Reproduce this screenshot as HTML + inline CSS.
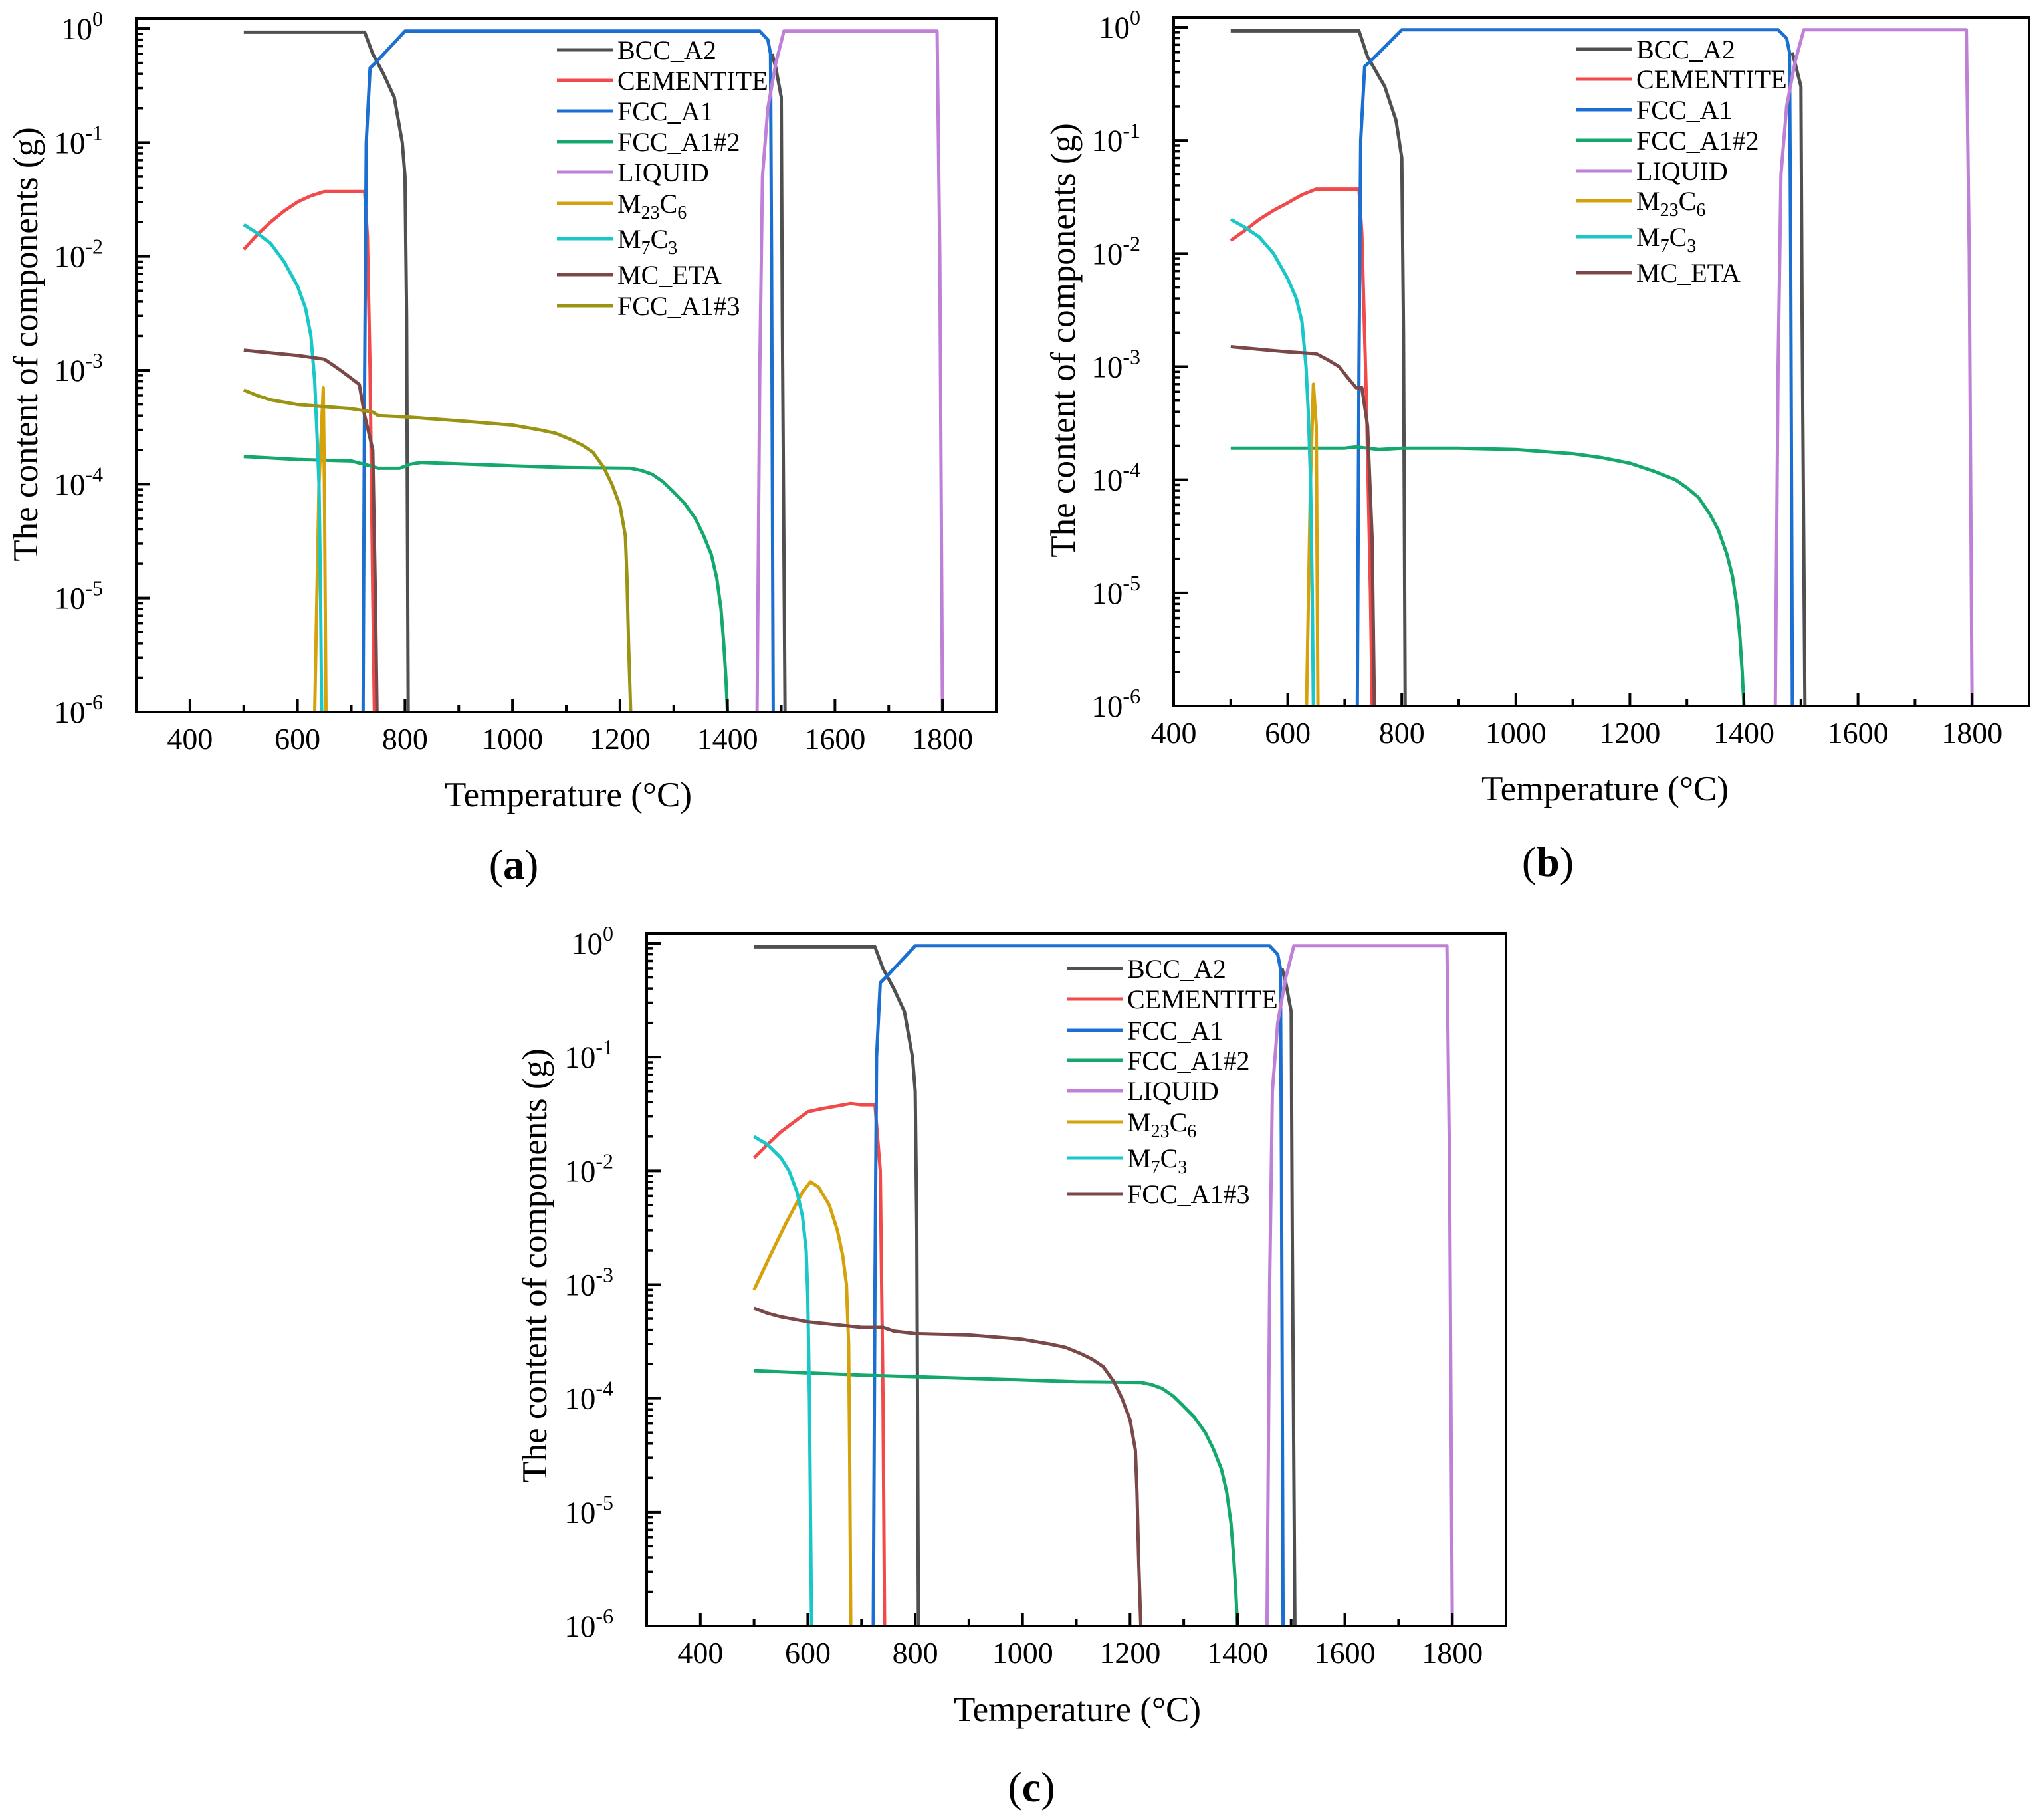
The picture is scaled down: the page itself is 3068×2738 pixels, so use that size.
<!DOCTYPE html>
<html><head><meta charset="utf-8"><style>
html,body{margin:0;padding:0;background:#fff}
svg{display:block}
text{font-family:"Liberation Serif",serif;fill:#000}
</style></head><body>
<svg id="fig" width="3068" height="2738" viewBox="0 0 3068 2738" xmlns="http://www.w3.org/2000/svg"></svg>
<script>
// ===== Panel (a) data =====
const aBccT=[500,725,740,760,780,795,800,803,806,null,1483,1490,1500,1502,1507];
const aBccV=[0.93,0.93,0.6,0.4,0.25,0.1,0.05,3e-3,1e-6,null,0.6,0.45,0.25,3e-3,1e-6];
const aCemT=[500,525,550,575,600,625,650,725,730,735,740,743];
const aCemV=[0.0115,0.0155,0.02,0.025,0.03,0.034,0.037,0.037,0.015,1e-3,1e-5,1e-6];
const aFccT=[722,725,728,735,745,800,1460,1475,1480,1482,1485];
const aFccV=[1e-6,1e-3,0.1,0.45,0.5,0.95,0.95,0.8,0.6,1e-2,1e-6];
const aFcc2T=[500,600,700,735,750,790,810,830,1000,1100,1220,1240,1260,1280,1300,1320,1340,1355,1370,1380,1388,1393,1397,1400];
const aFcc2V=[1.75e-4,1.65e-4,1.6e-4,1.45e-4,1.38e-4,1.38e-4,1.5e-4,1.55e-4,1.45e-4,1.4e-4,1.38e-4,1.32e-4,1.22e-4,1.05e-4,8.5e-5,6.8e-5,5e-5,3.6e-5,2.4e-5,1.5e-5,8e-6,4e-6,2e-6,1e-6];
const aLiqT=[1455,1460,1465,1475,1490,1505,1790,1795,1800];
const aLiqV=[1e-6,1e-3,0.05,0.2,0.5,0.95,0.95,1e-2,1e-6];
const aM23T=[632,640,648,650,653];
const aM23V=[1e-6,1e-4,7e-4,1e-4,1e-6];
const aM7T=[500,525,550,575,600,615,625,632,636,640,643,645];
const aM7V=[0.019,0.016,0.013,0.009,0.0055,0.0035,0.002,8e-4,3e-4,1e-4,1e-5,1e-6];
const aMcT=[500,600,650,665,680,700,715,725,740,745,748];
const aMcV=[1.5e-3,1.35e-3,1.25e-3,1.12e-3,1e-3,8.5e-4,7.5e-4,4e-4,2e-4,1e-5,1e-6];
const aFcc3T=[500,525,550,600,700,740,750,800,900,1000,1050,1080,1110,1130,1150,1170,1185,1200,1210,1213,1216,1220];
const aFcc3V=[6.7e-4,6e-4,5.5e-4,5e-4,4.6e-4,4.3e-4,4e-4,3.9e-4,3.6e-4,3.3e-4,3e-4,2.8e-4,2.45e-4,2.2e-4,1.9e-4,1.4e-4,1e-4,6.5e-5,3.5e-5,1.5e-5,4e-6,1e-6];
// ===== Panel (b) data =====
const bBccT=[500,725,740,770,790,800,803,806,null,1485,1500,1502,1507];
const bBccV=[0.93,0.93,0.55,0.3,0.15,0.07,2e-3,1e-6,null,0.6,0.3,3e-3,1e-6];
const bCemT=[500,525,550,575,600,625,650,725,730,738,745,748];
const bCemV=[0.013,0.016,0.02,0.024,0.028,0.033,0.037,0.037,0.015,5e-4,1e-5,1e-6];
const bFccT=[722,725,728,735,745,800,1460,1475,1480,1482,1485];
const bFccV=[1e-6,1e-3,0.1,0.45,0.5,0.95,0.95,0.8,0.6,1e-2,1e-6];
const bFcc2T=[500,700,720,760,800,900,1000,1100,1150,1200,1240,1280,1300,1320,1340,1355,1370,1380,1388,1393,1397,1400];
const bFcc2V=[1.9e-4,1.9e-4,1.95e-4,1.85e-4,1.9e-4,1.9e-4,1.85e-4,1.7e-4,1.57e-4,1.4e-4,1.2e-4,1e-4,8.5e-5,7e-5,5e-5,3.6e-5,2.2e-5,1.4e-5,7.5e-6,4e-6,2e-6,1e-6];
const bLiqT=[1455,1460,1465,1475,1490,1505,1790,1795,1800];
const bLiqV=[1e-6,1e-3,0.05,0.2,0.5,0.95,0.95,1e-2,1e-6];
const bM23T=[633,640,645,650,653];
const bM23V=[1e-6,1e-4,7e-4,3e-4,1e-6];
const bM7T=[500,525,550,575,600,615,625,632,636,640,643,645];
const bM7V=[0.02,0.017,0.014,0.01,0.006,0.004,0.0025,1e-3,4e-4,1e-4,1e-5,1e-6];
const bMcT=[500,600,650,670,690,705,720,730,740,748,752];
const bMcV=[1.5e-3,1.35e-3,1.3e-3,1.15e-3,1e-3,8e-4,6.5e-4,6.5e-4,3e-4,3e-5,1e-6];
// ===== Panel (c) data =====
const cBccT=[500,725,740,760,780,795,800,803,806,null,1483,1490,1500,1502,1507];
const cBccV=[0.93,0.93,0.6,0.4,0.25,0.1,0.05,3e-3,1e-6,null,0.6,0.45,0.25,3e-3,1e-6];
const cCemT=[500,525,550,575,600,625,680,700,725,735,740,743];
const cCemV=[0.013,0.017,0.022,0.027,0.033,0.035,0.039,0.038,0.038,0.01,1e-4,1e-6];
const cFccT=[722,725,728,735,745,800,1460,1475,1480,1482,1485];
const cFccV=[1e-6,1e-3,0.1,0.45,0.5,0.95,0.95,0.8,0.6,1e-2,1e-6];
const cFcc2T=[500,700,800,1000,1100,1220,1240,1260,1280,1300,1320,1340,1355,1370,1380,1388,1393,1397,1400];
const cFcc2V=[1.75e-4,1.6e-4,1.55e-4,1.45e-4,1.4e-4,1.38e-4,1.32e-4,1.22e-4,1.05e-4,8.5e-5,6.8e-5,5e-5,3.6e-5,2.4e-5,1.5e-5,8e-6,4e-6,2e-6,1e-6];
const cLiqT=[1455,1460,1465,1475,1490,1505,1790,1795,1800];
const cLiqV=[1e-6,1e-3,0.05,0.2,0.5,0.95,0.95,1e-2,1e-6];
const cM23T=[500,530,560,590,605,620,640,655,665,672,676,678,680];
const cM23V=[9e-4,1.8e-3,3.5e-3,6.5e-3,8e-3,7.2e-3,5e-3,3e-3,1.8e-3,1e-3,3e-4,3e-5,1e-6];
const cM7T=[500,525,550,565,580,590,597,600,603,605,607];
const cM7V=[0.02,0.017,0.013,0.01,0.0065,0.004,0.002,8e-4,1e-4,1e-5,1e-6];
const cFcc3T=[500,525,550,600,700,740,760,800,900,1000,1050,1080,1110,1130,1150,1170,1185,1200,1210,1213,1216,1220];
const cFcc3V=[6.2e-4,5.6e-4,5.2e-4,4.7e-4,4.2e-4,4.2e-4,3.9e-4,3.7e-4,3.6e-4,3.3e-4,3e-4,2.8e-4,2.45e-4,2.2e-4,1.9e-4,1.4e-4,1e-4,6.5e-5,3.5e-5,1.5e-5,4e-6,1e-6];
const xTickLabels=[400,600,800,1000,1200,1400,1600,1800];
const yExponents=[0,-1,-2,-3,-4,-5,-6];

const C={bcc:'#505050',cem:'#f24a4a',fcc:'#1b6fd0',fcc2:'#15a86c',liq:'#bf80d8',m23:'#d6a20c',m7:'#19c6c8',mc:'#7a4848',fcc3a:'#9a9412',fcc3c:'#7a4848'};
const NS='http://www.w3.org/2000/svg';
const svg=document.getElementById('fig');
function mk(tag,attrs,parent){const e=document.createElementNS(NS,tag);for(const k in attrs)e.setAttribute(k,attrs[k]);(parent||svg).appendChild(e);return e;}

function panel(cfg){
  const g=mk('g',{});
  
  
  const {L,R,T,B,xmin,xmax,y0}=cfg;
  const dec=(B-y0)/6;
  const xs=t=>L+(t-xmin)/(xmax-xmin)*(R-L);
  const ys=v=>y0-Math.log10(v)*dec;
  const cp=mk('clipPath',{id:'cp'+cfg.id},g);
  mk('rect',{x:L,y:T,width:R-L,height:B-T},cp);
  const sg=mk('g',{'clip-path':'url(#cp'+cfg.id+')'},g);
  cfg.series.forEach(s=>{
    let d='',pen=false;
    for(let i=0;i<s.t.length;i++){
      if(s.t[i]===null){pen=false;continue;}
      d+=(pen?'L':'M')+xs(s.t[i]).toFixed(1)+' '+ys(s.v[i]).toFixed(1);pen=true;
    }
    const p=mk('path',{d:d,fill:'none',stroke:s.c,'stroke-width':5,'stroke-linejoin':'round'},sg);
    
    
  });
  const fr=mk('rect',{x:L,y:T,width:R-L,height:B-T,fill:'none',stroke:'#000','stroke-width':4},g);
  
  
  for(let t=Math.ceil(xmin/100)*100;t<=xmax;t+=100){
    if(t===xmin||t===xmax)continue;
    const major=t%200===0;
    mk('line',{x1:xs(t),x2:xs(t),y1:B,y2:B-(major?20:10),stroke:'#000','stroke-width':4},g);
  }
  xTickLabels.forEach(t=>{
    const tx=mk('text',{x:xs(t),y:B+56,'text-anchor':'middle','font-size':46},g);
    tx.textContent=t;
    
    
  });
  yExponents.forEach(e=>{
    const y=ys(Math.pow(10,e));
    mk('line',{x1:L,x2:L+21,y1:y,y2:y,stroke:'#000','stroke-width':4},g);
    if(e>-6)for(let m=2;m<=9;m++){const yy=ys(m*Math.pow(10,e-1));mk('line',{x1:L,x2:L+10,y1:yy,y2:yy,stroke:'#000','stroke-width':3.5},g);}
    const tx=mk('text',{x:L-50,y:y+16,'text-anchor':'end','font-size':47},g);
    
    
    tx.appendChild(document.createTextNode('10'));
    const sp=mk('tspan',{'font-size':32,dy:-20},tx);sp.textContent=e===0?'0':'-'+(-e);
  });
  const xt=mk('text',{x:cfg.xtx,y:cfg.xty,'text-anchor':'middle','font-size':53},g);
  xt.textContent='Temperature (°C)';
  
  
  const yt=mk('text',{x:0,y:0,'text-anchor':'middle','font-size':53,transform:'translate('+cfg.ytx+','+cfg.yty+') rotate(-90)'},g);
  yt.textContent='The content of components (g)';
  
  
  const pl=mk('text',{x:cfg.plx,y:cfg.ply,'text-anchor':'middle','font-size':64},g);
  
  
  pl.appendChild(document.createTextNode('('));
  const bs=mk('tspan',{'font-weight':'bold'},pl);bs.textContent=cfg.id;
  pl.appendChild(document.createTextNode(')'));
  const lg=mk('g',{},g);
  
  
  cfg.series.forEach((s,i)=>{
    const y=cfg.legY[i];
    const ln=mk('line',{x1:cfg.legX,x2:cfg.legX+84,y1:y,y2:y,stroke:s.c,'stroke-width':5},lg);
    
    
    const tx=mk('text',{x:cfg.legX+91,y:y+14,'font-size':40},lg);
    
    
    if(s.sub){
      tx.appendChild(document.createTextNode('M'));
      const s1=mk('tspan',{'font-size':28,dy:9},tx);s1.textContent=s.sub[0];
      const c=mk('tspan',{dy:-9},tx);c.textContent='C';
      const s2=mk('tspan',{'font-size':28,dy:9},tx);s2.textContent=s.sub[1];
    } else tx.textContent=s.label;
  });
}

panel({id:'a',L:205,R:1499,T:28,B:1071,xmin:300,xmax:1900,y0:43,
  xtx:855,xty:1213,ytx:56,yty:518,plx:773,ply:1322,legX:838,
  legY:[75,121,167,213,259,306,359,413,460],
  series:[
    {key:'bcc-a2',label:'BCC_A2',c:C.bcc,t:aBccT,v:aBccV},
    {key:'cementite',label:'CEMENTITE',c:C.cem,t:aCemT,v:aCemV},
    {key:'fcc-a1',label:'FCC_A1',c:C.fcc,t:aFccT,v:aFccV},
    {key:'fcc-a1-2',label:'FCC_A1#2',c:C.fcc2,t:aFcc2T,v:aFcc2V},
    {key:'liquid',label:'LIQUID',c:C.liq,t:aLiqT,v:aLiqV},
    {key:'m23c6',sub:['23','6'],c:C.m23,t:aM23T,v:aM23V},
    {key:'m7c3',sub:['7','3'],c:C.m7,t:aM7T,v:aM7V},
    {key:'mc-eta',label:'MC_ETA',c:C.mc,t:aMcT,v:aMcV},
    {key:'fcc-a1-3',label:'FCC_A1#3',c:C.fcc3a,t:aFcc3T,v:aFcc3V}
  ]});
panel({id:'b',L:1766,R:3053,T:26,B:1062,xmin:400,xmax:1900,y0:41,
  xtx:2415,xty:1204,ytx:1617,yty:512,plx:2329,ply:1318,legX:2371,
  legY:[74,119,165,211,257,302,356,410],
  series:[
    {key:'bcc-a2',label:'BCC_A2',c:C.bcc,t:bBccT,v:bBccV},
    {key:'cementite',label:'CEMENTITE',c:C.cem,t:bCemT,v:bCemV},
    {key:'fcc-a1',label:'FCC_A1',c:C.fcc,t:bFccT,v:bFccV},
    {key:'fcc-a1-2',label:'FCC_A1#2',c:C.fcc2,t:bFcc2T,v:bFcc2V},
    {key:'liquid',label:'LIQUID',c:C.liq,t:bLiqT,v:bLiqV},
    {key:'m23c6',sub:['23','6'],c:C.m23,t:bM23T,v:bM23V},
    {key:'m7c3',sub:['7','3'],c:C.m7,t:bM7T,v:bM7V},
    {key:'mc-eta',label:'MC_ETA',c:C.mc,t:bMcT,v:bMcV}
  ]});
panel({id:'c',L:973,R:2266,T:1404,B:2446,xmin:300,xmax:1900,y0:1419,
  xtx:1621,xty:2589,ytx:822,yty:1904,plx:1552,ply:2710,legX:1605,
  legY:[1457,1503,1550,1595,1641,1688,1742,1796],
  series:[
    {key:'bcc-a2',label:'BCC_A2',c:C.bcc,t:cBccT,v:cBccV},
    {key:'cementite',label:'CEMENTITE',c:C.cem,t:cCemT,v:cCemV},
    {key:'fcc-a1',label:'FCC_A1',c:C.fcc,t:cFccT,v:cFccV},
    {key:'fcc-a1-2',label:'FCC_A1#2',c:C.fcc2,t:cFcc2T,v:cFcc2V},
    {key:'liquid',label:'LIQUID',c:C.liq,t:cLiqT,v:cLiqV},
    {key:'m23c6',sub:['23','6'],c:C.m23,t:cM23T,v:cM23V},
    {key:'m7c3',sub:['7','3'],c:C.m7,t:cM7T,v:cM7V},
    {key:'fcc-a1-3',label:'FCC_A1#3',c:C.fcc3c,t:cFcc3T,v:cFcc3V}
  ]});
</script>
</body></html>
